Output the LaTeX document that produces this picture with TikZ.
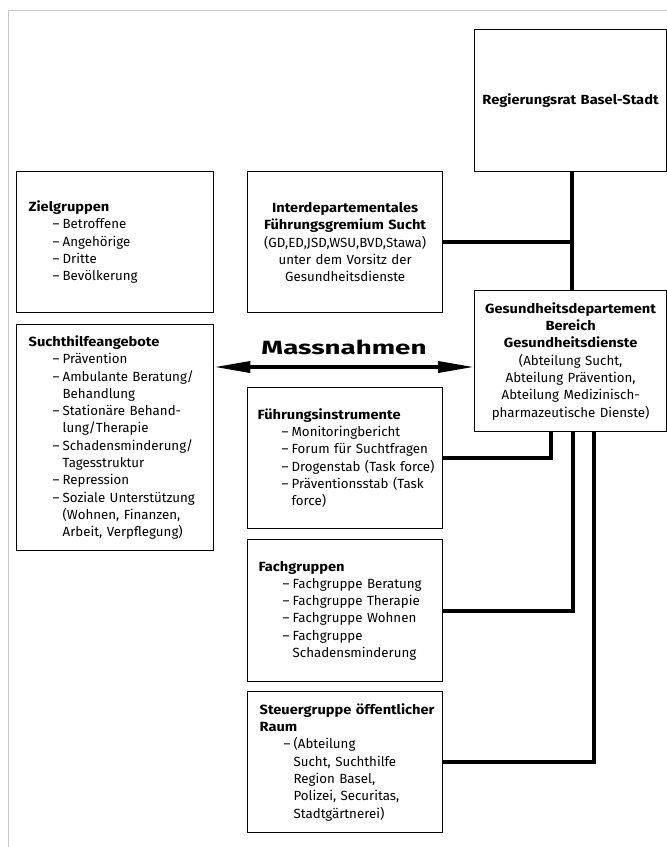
\documentclass[tikz,border=0pt]{standalone}
\usepackage{fontspec}
\setmainfont{Fira Sans}[BoldFeatures={FakeStretch=1.1}]
\usetikzlibrary{arrows.meta}
\newcommand\myitem[1]{\mbox{\hspace*{24pt}\makebox[10pt][l]{–}#1}}
\newcommand\mycont[1]{\mbox{\hspace*{34pt}#1}}
\newcommand\mytitle[1]{\mbox{\textbf{#1}}}
\begin{document}
\begin{tikzpicture}[x=1pt,y=-1pt,
  txt/.style={font=\fontsize{13.3}{17.3}\selectfont},
  lbox/.style={draw, line width=1.3pt, anchor=north west, inner xsep=12pt, inner ysep=0pt, align=left, txt},
  cbox/.style={draw, line width=1.3pt, anchor=north west, inner xsep=4pt, inner ysep=0pt, align=center, txt},
  conn/.style={line width=4pt},
  framec/.style={draw=black!22, line width=1pt}]
\useasboundingbox (0,0) rectangle (667,847);
\draw[framec] (8,847) -- (8,10) -- (667,10);

% right column
\node[cbox, text width=184pt, minimum height=142pt] (reg) at (474,29)
  {\mytitle{Regierungsrat Basel-Stadt}};
\node[cbox, text width=184pt, minimum height=141pt] (gd) at (474,290)
  {\mytitle{Gesundheitsdepartement}\\ \mytitle{Bereich}\\ \mytitle{Gesundheitsdienste}\\
   (Abteilung Sucht,\\ Abteilung Prävention,\\ Abteilung Medizinisch-\\ pharmazeutische Dienste)};

% left column
\node[lbox, text width=173pt, minimum height=141pt] (ziel) at (16,171)
  {\mytitle{Zielgruppen}\\ \myitem{Betroffene}\\ \myitem{Angehörige}\\ \myitem{Dritte}\\ \myitem{Bevölkerung}};
\node[lbox, text width=173pt, minimum height=226pt] (sucht) at (16,324)
  {\mytitle{Suchthilfeangebote}\\
   \myitem{Prävention}\\
   \myitem{Ambulante Beratung/}\\
   \mycont{Behandlung}\\
   \myitem{Stationäre Behand-}\\
   \mycont{lung/Therapie}\\
   \myitem{Schadensminderung/}\\
   \mycont{Tagesstruktur}\\
   \myitem{Repression}\\
   \myitem{Soziale Unterstützung}\\
   \mycont{(Wohnen, Finanzen,}\\
   \mycont{Arbeit, Verpflegung)}};

% middle column
\node[cbox, text width=187pt, minimum height=141pt] (inter) at (247,171)
  {\mytitle{Interdepartementales}\\ \mytitle{Führungsgremium Sucht}\\ (GD,ED,JSD,WSU,BVD,Stawa)\\
   unter dem Vorsitz der\\ Gesundheitsdienste};
\node[lbox, inner xsep=10pt, text width=175pt, minimum height=141pt] (fuehr) at (247,387)
  {\mytitle{Führungsinstrumente}\\
   \myitem{Monitoringbericht}\\
   \myitem{Forum für Suchtfragen}\\
   \myitem{Drogenstab (Task force)}\\
   \myitem{Präventionsstab (Task}\\
   \mycont{force)}};
\node[lbox, inner xsep=11pt, text width=173pt, minimum height=142pt] (fach) at (247,539)
  {\mytitle{Fachgruppen}\\
   \myitem{Fachgruppe Beratung}\\
   \myitem{Fachgruppe Therapie}\\
   \myitem{Fachgruppe Wohnen}\\
   \myitem{Fachgruppe}\\
   \mycont{Schadensminderung}};
\node[lbox, text width=171pt, minimum height=141pt] (steuer) at (247,691)
  {\mytitle{Steuergruppe öffentlicher}\\ \mytitle{Raum}\\
   \myitem{(Abteilung}\\
   \mycont{Sucht, Suchthilfe}\\
   \mycont{Region Basel,}\\
   \mycont{Polizei, Securitas,}\\
   \mycont{Stadtgärtnerei)}};

% Massnahmen
\node (mass) at (344,347.5) {\resizebox{165pt}{14.5pt}{\bfseries Massnahmen}};
\draw[line width=3.5pt, {Triangle[length=36pt,width=11pt]}-{Triangle[length=36pt,width=11pt]}]
  (sucht.east |- 0,367) -- (gd.west |- 0,367);

% connectors
\coordinate (j1) at (gd.south -| 551,0);
\coordinate (j2) at (gd.south -| 573,0);
\coordinate (j3) at (gd.south -| 594,0);
\draw[conn] (reg.south -| 572,0) -- (gd.north -| 572,0);
\draw[conn] (inter.east) -- (inter.east -| 572,0);
\draw[conn] (fuehr.east) -| (j1);
\draw[conn] (fach.east) -| (j2);
\draw[conn] (steuer.east) -| (j3);
\end{tikzpicture}
\end{document}
